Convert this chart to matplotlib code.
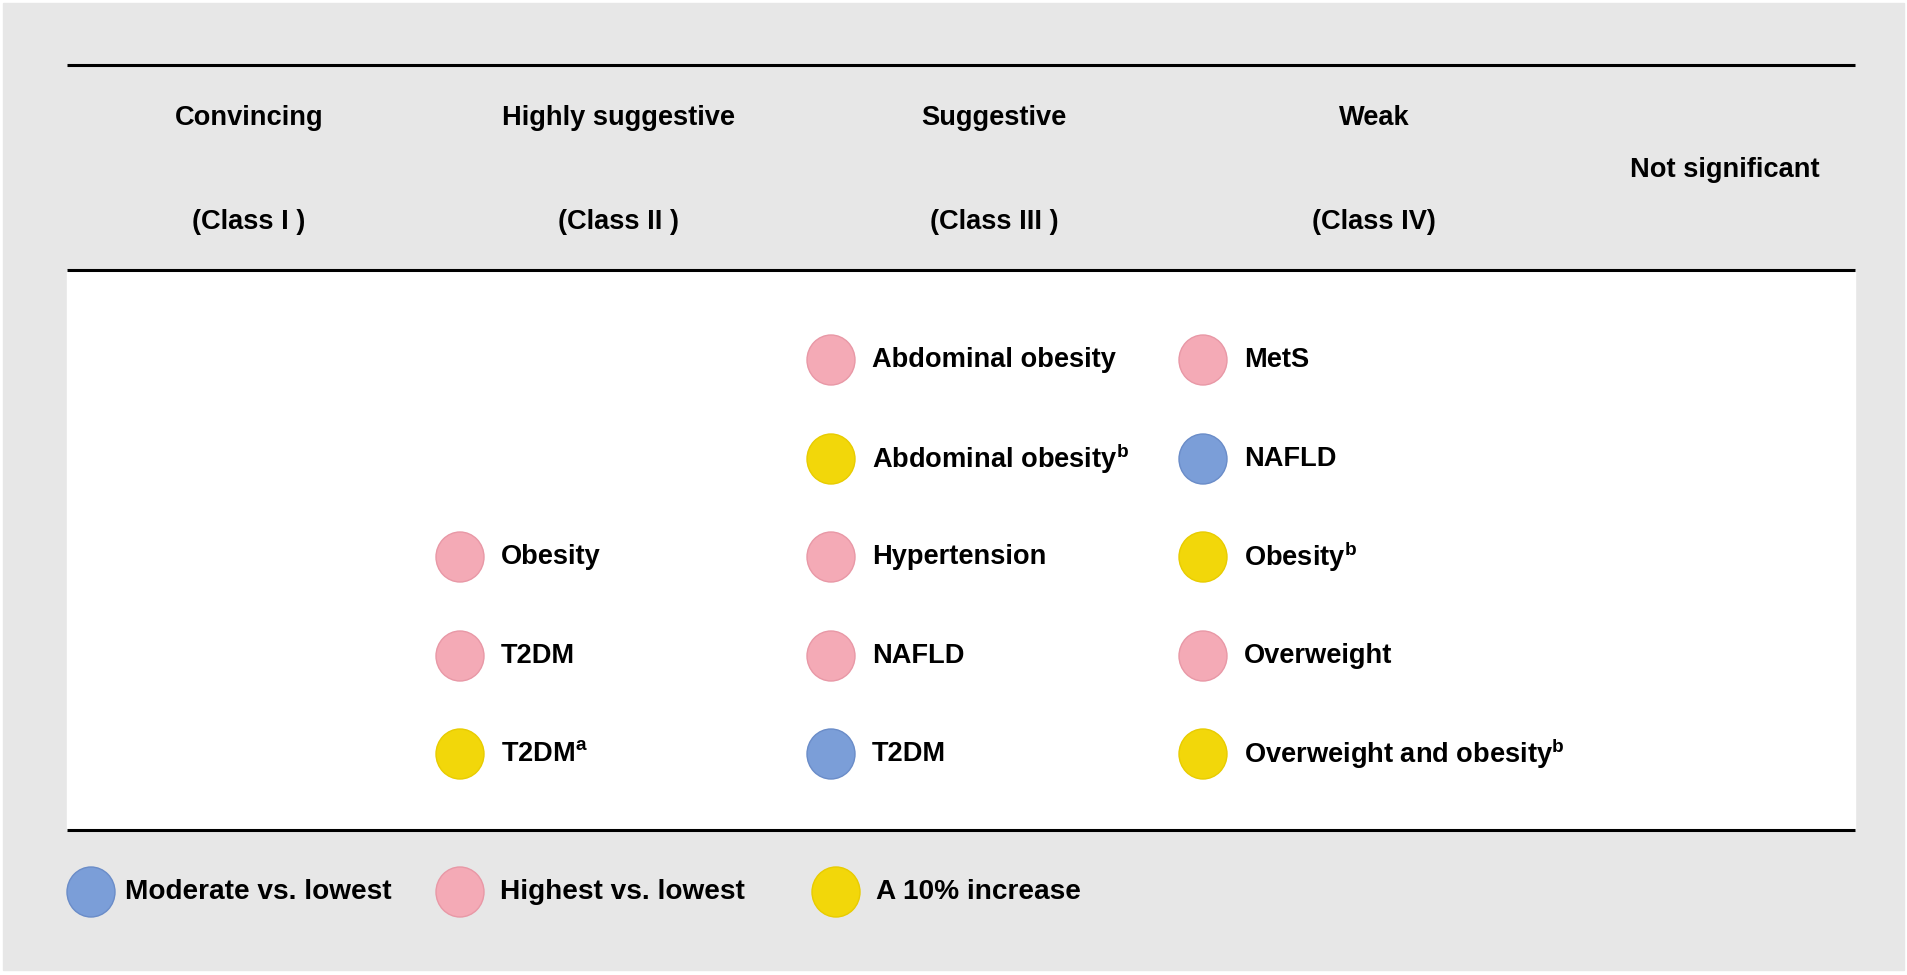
import matplotlib.pyplot as plt
from matplotlib.patches import Ellipse, Rectangle

plt.rcParams['font.family'] = ['Liberation Sans', 'DejaVu Sans']
plt.rcParams['mathtext.fontset'] = 'custom'
plt.rcParams['mathtext.rm'] = 'Liberation Sans:bold'
plt.rcParams['mathtext.it'] = 'Liberation Sans:bold'
plt.rcParams['mathtext.bf'] = 'Liberation Sans:bold'

# evidence classes (header)
class_names = ["Convincing", "Highly suggestive", "Suggestive", "Weak"]
class_labels = ["(Class I )", "(Class II )", "(Class III )", "(Class IV)"]
not_sig = "Not significant"

# outcomes per class, with comparison type
class1_items = []
class1_types = []
class2_items = ["Obesity", "T2DM", "T2DM$^{a}$"]
class2_types = ["high", "high", "inc"]
class3_items = ["Abdominal obesity", "Abdominal obesity$^{b}$", "Hypertension", "NAFLD", "T2DM"]
class3_types = ["high", "inc", "high", "high", "mod"]
class4_items = ["MetS", "NAFLD", "Obesity$^{b}$", "Overweight", "Overweight and obesity$^{b}$"]
class4_types = ["high", "mod", "inc", "high", "inc"]

legend_keys = ["mod", "high", "inc"]
legend_labels = ["Moderate vs. lowest", "Highest vs. lowest", "A 10% increase"]

colors = {"mod": "#7B9ED8", "high": "#F4AAB6", "inc": "#F2D70A"}
edges = {"mod": "#6A8CC8", "high": "#E898A6", "inc": "#E8CC00"}

W, H = 1907, 975
fig = plt.figure(figsize=(W / 100, H / 100), dpi=100)
ax = fig.add_axes([0, 0, 1, 1])
ax.set_xlim(0, W)
ax.set_ylim(H, 0)
ax.axis("off")

ax.add_patch(Rectangle((3, 3), W - 6, H - 8, color="#E7E7E7", zorder=0))
ax.add_patch(Rectangle((67, 270), 1855 - 67, 830 - 270, color="white", zorder=1))

for yl in [65, 270, 830]:
    ax.plot([67, 1855], [yl, yl], color="black", lw=2.2, zorder=3, solid_capstyle="butt")

fs = 19.6
col_x = [249, 619, 994, 1374]
for cx, nm, lb in zip(col_x, class_names, class_labels):
    ax.text(cx, 118, nm, ha="center", va="center", fontsize=fs, fontweight="bold")
    ax.text(cx, 222, lb, ha="center", va="center", fontsize=fs, fontweight="bold")
ax.text(1725, 170, not_sig, ha="center", va="center", fontsize=fs, fontweight="bold")


def dot(x, y, kind):
    ax.add_patch(Ellipse((x, y), 48, 50, facecolor=colors[kind],
                         edgecolor=edges[kind], lw=1, zorder=4))


row_y = [360, 459, 557, 656, 754]
circle_x = [90, 460, 831, 1203]
columns = [(class1_items, class1_types), (class2_items, class2_types),
           (class3_items, class3_types), (class4_items, class4_types)]
for cx, (items, types) in zip(circle_x, columns):
    start = len(row_y) - len(items)
    for i, (name, kind) in enumerate(zip(items, types)):
        y = row_y[start + i]
        dot(cx, y, kind)
        ax.text(cx + 41, y, name, ha="left", va="center", fontsize=fs,
                fontweight="bold", zorder=5)

leg_circle_x = [91, 460, 836]
for lx, key, lab in zip(leg_circle_x, legend_keys, legend_labels):
    dot(lx, 892, key)
    ax.text(lx + 34 if key == "mod" else lx + 40, 892, lab, ha="left", va="center",
            fontsize=fs + 0.6, fontweight="bold", zorder=5)

fig.savefig("out.png", dpi=100, facecolor="white")
